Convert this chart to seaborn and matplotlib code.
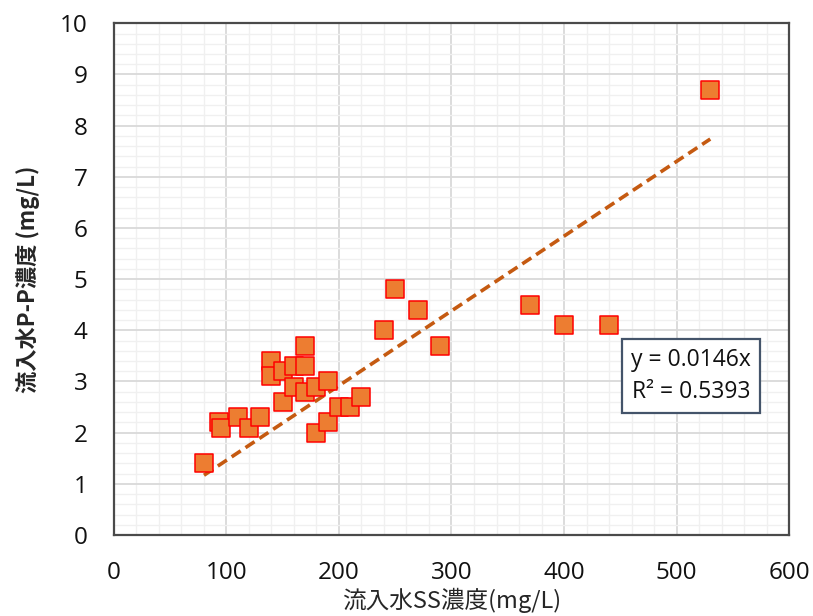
import matplotlib
matplotlib.use('Agg')
import matplotlib.pyplot as plt
from matplotlib.ticker import MultipleLocator
import seaborn as sns
import pandas as pd

# 流入水SS濃度 (mg/L)
ss_conc = [80, 93, 95, 110, 120, 130, 140, 140, 150, 150, 160, 160, 170, 170, 170,
           180, 180, 190, 190, 200, 210, 220, 240, 250, 270, 290, 370, 400, 440, 530]
# 流入水P-P濃度 (mg/L)
pp_conc = [1.4, 2.2, 2.1, 2.3, 2.1, 2.3, 3.4, 3.1, 3.2, 2.6, 3.3, 2.9, 3.3, 3.7, 2.8,
           2.9, 2.0, 3.0, 2.2, 2.5, 2.5, 2.7, 4.0, 4.8, 4.4, 3.7, 4.5, 4.1, 4.1, 8.7]

slope = 0.0146
r2 = 0.5393

df = pd.DataFrame({'ss': ss_conc, 'pp': pp_conc})

sns.set_style('white')
plt.rcParams['font.family'] = ['Open Sans', 'Noto Sans CJK JP', 'DejaVu Sans']

fig = plt.figure(figsize=(8.13, 6.16), dpi=100)
ax = fig.add_axes([0.1402, 0.1315, 0.8303, 0.8307])

# 近似直線 (原点通過)
x_line = [df['ss'].min(), df['ss'].max()]
y_line = [slope * v for v in x_line]
ax.plot(x_line, y_line, color='#C55A11', lw=2.6, ls=(0, (3, 1.6)), zorder=2)

sns.scatterplot(data=df, x='ss', y='pp', marker='s', s=180, color='#ED7D31',
                edgecolor='#FF0000', linewidth=1.1, ax=ax, zorder=3)

ax.set_xlim(0, 600)
ax.set_ylim(0, 10)
ax.xaxis.set_major_locator(MultipleLocator(100))
ax.xaxis.set_minor_locator(MultipleLocator(20))
ax.yaxis.set_major_locator(MultipleLocator(1))
ax.yaxis.set_minor_locator(MultipleLocator(0.2))
ax.grid(which='major', color='#D9D9D9', lw=1.3, zorder=0)
ax.grid(which='minor', color='#F0F0F0', lw=1.0, zorder=0)
ax.set_axisbelow(True)

ax.tick_params(which='both', length=0, labelsize=17.5, colors='#111111')
ax.tick_params(axis='y', pad=19)
ax.tick_params(axis='x', pad=19)

for sp in ax.spines.values():
    sp.set_color('#4a4a4a')
    sp.set_linewidth(1.6)

ax.set_xlabel('流入水SS濃度(mg/L)', fontsize=17, labelpad=2,
              family=['Noto Sans CJK JP', 'DejaVu Sans'])
ax.set_ylabel('流入水P-P濃度 (mg/L)', fontsize=16, fontweight='bold', labelpad=14,
              family=['Noto Sans CJK JP', 'DejaVu Sans'])

ax.text(0.855, 0.311, f'y = {slope}x\nR² = {r2}', transform=ax.transAxes,
        ha='center', va='center', fontsize=16.5, linespacing=1.45, color='#111111',
        bbox=dict(boxstyle='square,pad=0.4', fc='white', ec='#44546A', lw=1.6),
        zorder=5)

fig.savefig('out.png', dpi=100)
